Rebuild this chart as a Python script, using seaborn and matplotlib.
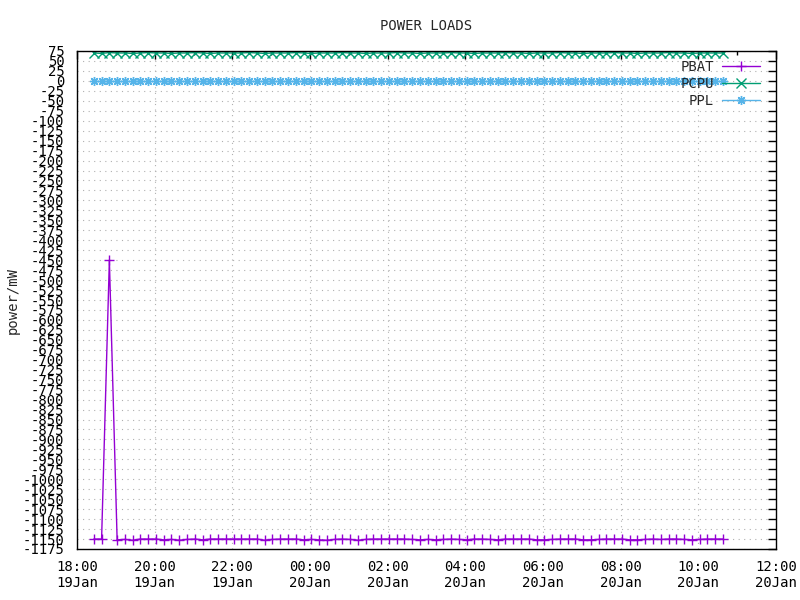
import matplotlib
matplotlib.use("Agg")
import matplotlib.dates as mdates
import matplotlib.ticker as mticker
import pandas as pd
import seaborn as sns
from matplotlib import pyplot as plt

# sample times (19 Jan evening -> 20 Jan morning)
TIMES = [
    "18:26", "18:38", "18:50",
    "19:02", "19:14", "19:26", "19:38", "19:50",
    "20:02", "20:14", "20:26", "20:38", "20:50",
    "21:02", "21:14", "21:26", "21:38", "21:50",
    "22:02", "22:14", "22:26", "22:38", "22:50",
    "23:02", "23:14", "23:26", "23:38", "23:50",
    "00:02", "00:14", "00:26", "00:38", "00:50",
    "01:02", "01:14", "01:26", "01:38", "01:50",
    "02:02", "02:14", "02:26", "02:38", "02:50",
    "03:02", "03:14", "03:26", "03:38", "03:50",
    "04:02", "04:14", "04:26", "04:38", "04:50",
    "05:02", "05:14", "05:26", "05:38", "05:50",
    "06:02", "06:14", "06:26", "06:38", "06:50",
    "07:02", "07:14", "07:26", "07:38", "07:50",
    "08:02", "08:14", "08:26", "08:38", "08:50",
    "09:02", "09:14", "09:26", "09:38", "09:50",
    "10:02", "10:14", "10:26", "10:38",
]

PBAT = [
    -1150, -1150, -450,
    -1152, -1151, -1153, -1150, -1150,
    -1150, -1152, -1151, -1153, -1151,
    -1150, -1152, -1150, -1150, -1150,
    -1150, -1150, -1150, -1150, -1153,
    -1151, -1150, -1150, -1150, -1152,
    -1151, -1152, -1153, -1151, -1150,
    -1151, -1153, -1151, -1150, -1150,
    -1150, -1150, -1150, -1151, -1152,
    -1151, -1152, -1151, -1150, -1151,
    -1152, -1150, -1150, -1151, -1152,
    -1150, -1150, -1150, -1150, -1152,
    -1152, -1151, -1150, -1150, -1150,
    -1152, -1152, -1151, -1150, -1150,
    -1150, -1152, -1152, -1151, -1150,
    -1151, -1150, -1150, -1151, -1152,
    -1151, -1150, -1150, -1150,
]

PCPU = [
    70, 69, 71,
    70, 70, 69, 70, 71,
    70, 70, 69, 70, 70,
    71, 70, 69, 70, 70,
    70, 70, 71, 70, 69,
    70, 70, 70, 71, 70,
    69, 70, 70, 70, 71,
    70, 70, 69, 70, 70,
    70, 71, 70, 70, 69,
    70, 70, 70, 71, 70,
    70, 69, 70, 70, 70,
    71, 70, 70, 69, 70,
    70, 70, 71, 70, 70,
    69, 70, 70, 70, 71,
    70, 70, 69, 70, 70,
    70, 71, 70, 70, 69,
    70, 70, 70, 70,
]

PPL = [
    0, 0, 0,
    0, 0, 0, 0, 0,
    0, 0, 0, 0, 0,
    0, 0, 0, 0, 0,
    0, 0, 0, 0, 0,
    0, 0, 0, 0, 0,
    0, 0, 0, 0, 0,
    0, 0, 0, 0, 0,
    0, 0, 0, 0, 0,
    0, 0, 0, 0, 0,
    0, 0, 0, 0, 0,
    0, 0, 0, 0, 0,
    0, 0, 0, 0, 0,
    0, 0, 0, 0, 0,
    0, 0, 0, 0, 0,
    0, 0, 0, 0, 0,
    0, 0, 0, 0,
]


def to_stamp(hm):
    day = "2024-01-19" if hm >= "18:00" else "2024-01-20"
    return pd.Timestamp(f"{day} {hm}")


stamps = [to_stamp(t) for t in TIMES]
df = pd.DataFrame({"time": stamps, "PBAT": PBAT, "PCPU": PCPU, "PPL": PPL})

sns.set_style("white")
plt.rcParams["font.family"] = ["DejaVu Sans Mono", "DejaVu Sans"]
plt.rcParams["axes.unicode_minus"] = False

fig = plt.figure(figsize=(8, 6), dpi=100)
ax = fig.add_axes([77 / 800, 1 - 549 / 600, 699 / 800, 498 / 600])

styles = {
    "PBAT": ("#9400d3", "+"),
    "PCPU": ("#009e73", "x"),
    "PPL": ("#56b4e9", (8, 2, 0)),
}
for name, (color, marker) in styles.items():
    sns.lineplot(data=df, x="time", y=name, ax=ax, color=color, marker=marker,
                 markersize=6.5, markeredgewidth=1, markeredgecolor=color,
                 markerfacecolor=color, linewidth=1, label=name)

ax.set_xlim(pd.Timestamp("2024-01-19 18:00"), pd.Timestamp("2024-01-20 12:00"))
ax.set_ylim(-1175, 75)
ax.yaxis.set_major_locator(mticker.MultipleLocator(25))
ax.xaxis.set_major_locator(mdates.HourLocator(byhour=range(0, 24, 2)))
ax.xaxis.set_minor_locator(mdates.HourLocator())
ax.xaxis.set_major_formatter(mdates.DateFormatter("%H:%M\n%d%b"))

ax.tick_params(axis="both", which="both", direction="in", top=True, right=True,
               labelsize=10, colors="black", width=1)
ax.tick_params(axis="both", which="major", length=6)
ax.tick_params(axis="x", which="major", pad=8)
ax.tick_params(axis="x", which="minor", length=3)
ax.tick_params(axis="y", pad=9)

ax.grid(True, which="major", color="#b0b0b0", linestyle=(0, (1, 4)), linewidth=0.8)
for sp in ax.spines.values():
    sp.set_color("black")
    sp.set_linewidth(1)

ax.set_xlabel("")
ax.set_ylabel("power/mW", fontsize=10)
ax.yaxis.set_label_coords(-0.082, 0.5)
fig.text(426.5 / 800, 1 - 26 / 600, "POWER LOADS", fontsize=10, ha="center", va="center")

ax.legend(loc="upper right", frameon=False, markerfirst=False, fontsize=10,
          handlelength=2.7, labelspacing=0.2, borderaxespad=0, handletextpad=0.6,
          bbox_to_anchor=(0.985, 0.993))

fig.savefig("out.png", dpi=100)
